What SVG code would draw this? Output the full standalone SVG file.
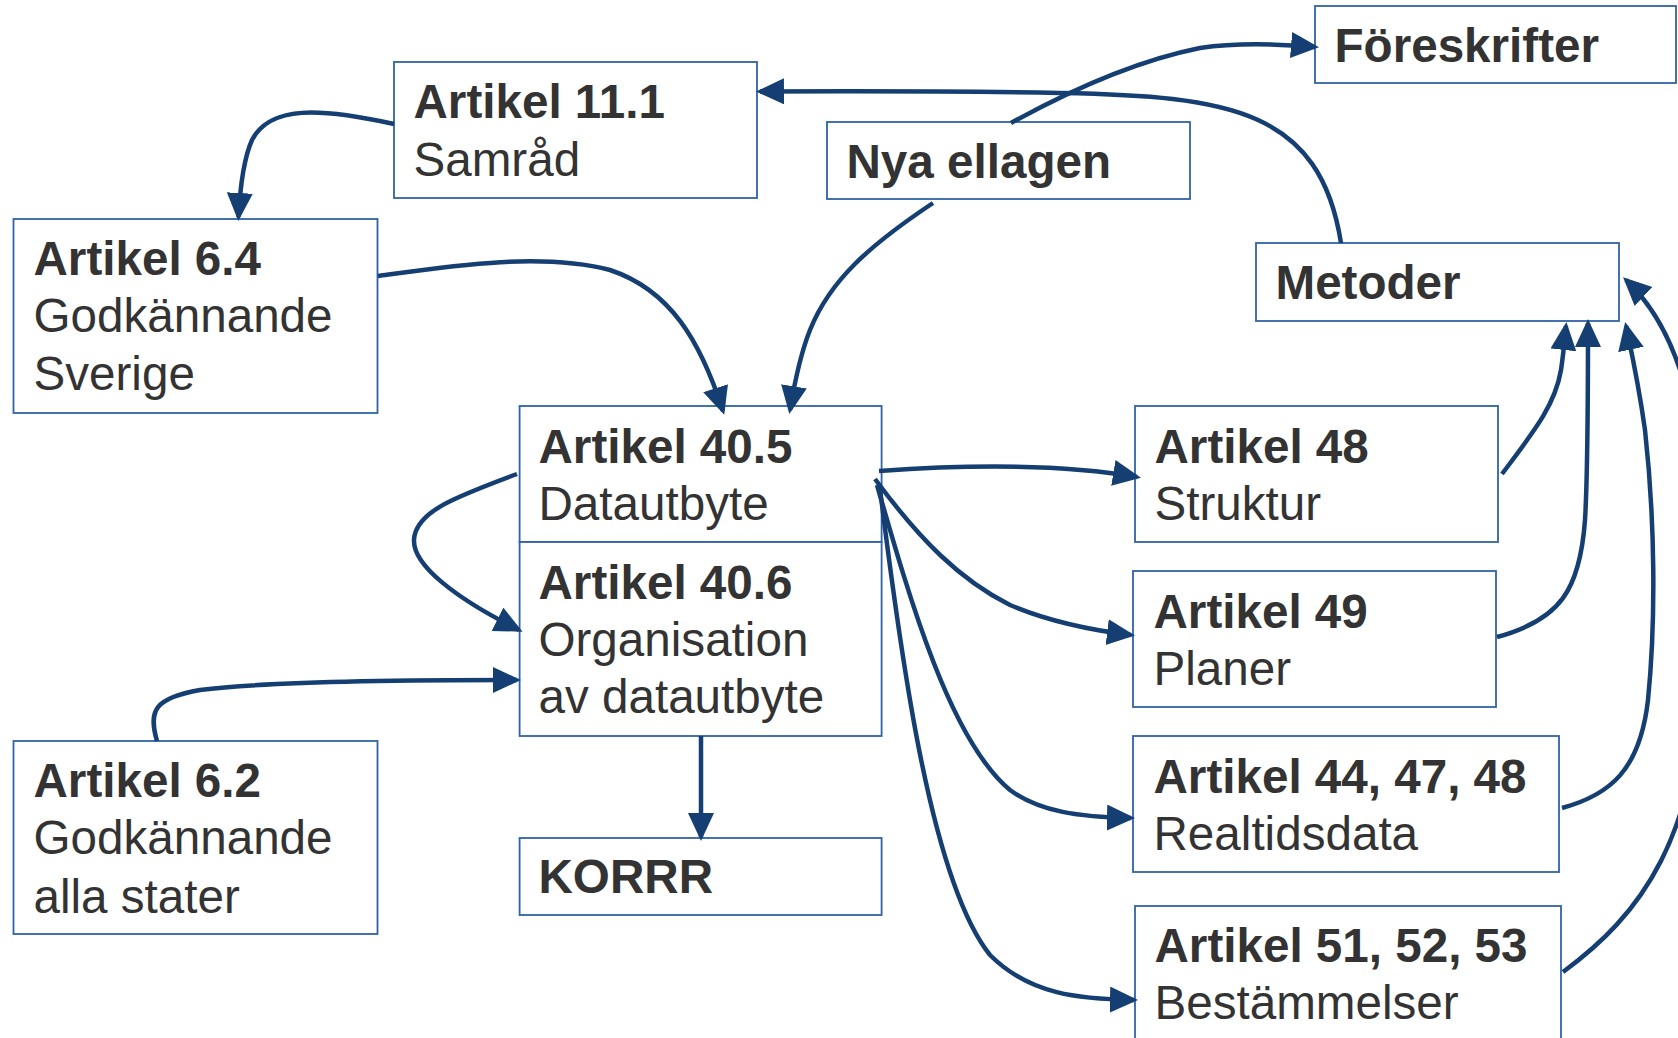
<svg xmlns="http://www.w3.org/2000/svg" width="1678" height="1038" viewBox="0 0 1678 1038">
  <defs>
    <marker id="arrow" markerUnits="userSpaceOnUse" markerWidth="30" markerHeight="28" refX="24" refY="13" orient="auto">
      <path d="M0,0 L28,13 L0,26 Z" fill="#153f72"/>
    </marker>
  </defs>
  <style>
    .box { fill: #ffffff; stroke: #2f63a6; stroke-width: 1.8; }
    .title { font-family: "Liberation Sans", Arial, sans-serif; font-weight: bold; font-size: 47.6px; fill: #333333; }
    .sub { font-family: "Liberation Sans", Arial, sans-serif; font-size: 47.6px; fill: #333333; }
    .edge { fill: none; stroke: #153f72; stroke-width: 4.5; marker-end: url(#arrow); }
  </style>
  <rect width="1678" height="1038" fill="#ffffff"/>

  <!-- nodes -->
  <g id="n-artikel-11-1">
    <rect class="box" x="394" y="62" width="363" height="136"/>
    <text class="title" x="413.5" y="118">Artikel 11.1</text>
    <text class="sub" x="413.5" y="176">Samråd</text>
  </g>
  <g id="n-artikel-6-4">
    <rect class="box" x="13.5" y="219" width="364" height="194"/>
    <text class="title" x="33.5" y="275">Artikel 6.4</text>
    <text class="sub" x="33.5" y="332">Godkännande</text>
    <text class="sub" x="33.5" y="390">Sverige</text>
  </g>
  <g id="n-nya-ellagen">
    <rect class="box" x="827" y="122" width="363" height="77"/>
    <text class="title" x="846.5" y="178">Nya ellagen</text>
  </g>
  <g id="n-foreskrifter">
    <rect class="box" x="1315" y="6" width="361" height="77"/>
    <text class="title" x="1334.5" y="62">Föreskrifter</text>
  </g>
  <g id="n-metoder">
    <rect class="box" x="1256" y="243" width="363" height="78"/>
    <text class="title" x="1275.5" y="299">Metoder</text>
  </g>
  <g id="n-artikel-40-5">
    <rect class="box" x="519.6" y="406" width="362" height="136"/>
    <text class="title" x="538.5" y="463">Artikel 40.5</text>
    <text class="sub" x="538.5" y="520">Datautbyte</text>
  </g>
  <g id="n-artikel-40-6">
    <rect class="box" x="519.6" y="542" width="362" height="194"/>
    <text class="title" x="538.5" y="599">Artikel 40.6</text>
    <text class="sub" x="538.5" y="656">Organisation</text>
    <text class="sub" x="538.5" y="713">av datautbyte</text>
  </g>
  <g id="n-korrr">
    <rect class="box" x="519.6" y="838" width="362" height="77"/>
    <text class="title" x="538.5" y="893">KORRR</text>
  </g>
  <g id="n-artikel-6-2">
    <rect class="box" x="13.5" y="741" width="364" height="193"/>
    <text class="title" x="33.5" y="797">Artikel 6.2</text>
    <text class="sub" x="33.5" y="854">Godkännande</text>
    <text class="sub" x="33.5" y="913">alla stater</text>
  </g>
  <g id="n-artikel-48">
    <rect class="box" x="1135" y="406" width="363" height="136"/>
    <text class="title" x="1154.5" y="463">Artikel 48</text>
    <text class="sub" x="1154.5" y="520">Struktur</text>
  </g>
  <g id="n-artikel-49">
    <rect class="box" x="1133" y="571" width="363" height="136"/>
    <text class="title" x="1153.5" y="628">Artikel 49</text>
    <text class="sub" x="1153.5" y="685">Planer</text>
  </g>
  <g id="n-artikel-44-47-48">
    <rect class="box" x="1133" y="736" width="426" height="136"/>
    <text class="title" x="1153.5" y="793">Artikel 44, 47, 48</text>
    <text class="sub" x="1153.5" y="850">Realtidsdata</text>
  </g>
  <g id="n-artikel-51-52-53">
    <rect class="box" x="1135" y="906" width="426" height="140"/>
    <text class="title" x="1154.5" y="962">Artikel 51, 52, 53</text>
    <text class="sub" x="1154.5" y="1019">Bestämmelser</text>
  </g>

  <!-- connectors -->
  <g id="connectors">
    <path class="edge" d="M1341,243 C1320,110 1230,96 1060,93 C950,91 850,91 760,91.5"/>
    <path class="edge" d="M394,124 C320,108 270,105 252,140 C243,160 240,190 238.5,217"/>
    <path class="edge" d="M378,276 C450,266 540,252 610,270 C670,290 700,340 723,411"/>
    <path class="edge" d="M933,203 C870,245 830,280 810,330 C800,355 795,380 790,410"/>
    <path class="edge" d="M1011,123 C1080,85 1140,60 1200,48 C1240,42 1280,44 1315,47"/>
    <path class="edge" d="M517,474 C455,497 415,512 414,540 C413,565 455,598 519,630"/>
    <path class="edge" d="M157,741 C148,710 155,698 200,690 C260,682 400,680 517,680"/>
    <path class="edge" d="M701,736 L701,837"/>
    <path class="edge" d="M879,471 C950,466 1050,462 1137,477"/>
    <path class="edge" d="M875,479 C920,540 960,580 1010,605 C1050,622 1090,630 1131,635"/>
    <path class="edge" d="M877,485 C910,600 950,740 1010,790 C1040,812 1080,817 1131,818"/>
    <path class="edge" d="M880,489 C900,650 930,880 990,955 C1030,995 1080,999 1134,1000"/>
    <path class="edge" d="M1502,474 C1535,430 1555,405 1561,370 C1564,350 1565,335 1566,326"/>
    <path class="edge" d="M1497,637 C1560,620 1580,590 1585,520 C1588,470 1588,400 1588,323"/>
    <path class="edge" d="M1562,808 C1610,795 1640,770 1648,700 C1656,620 1655,520 1645,430 C1638,380 1630,345 1626,326"/>
    <path class="edge" d="M1563,972 C1640,915 1700,840 1705,650 C1710,450 1690,340 1626,280"/>
  </g>
</svg>
